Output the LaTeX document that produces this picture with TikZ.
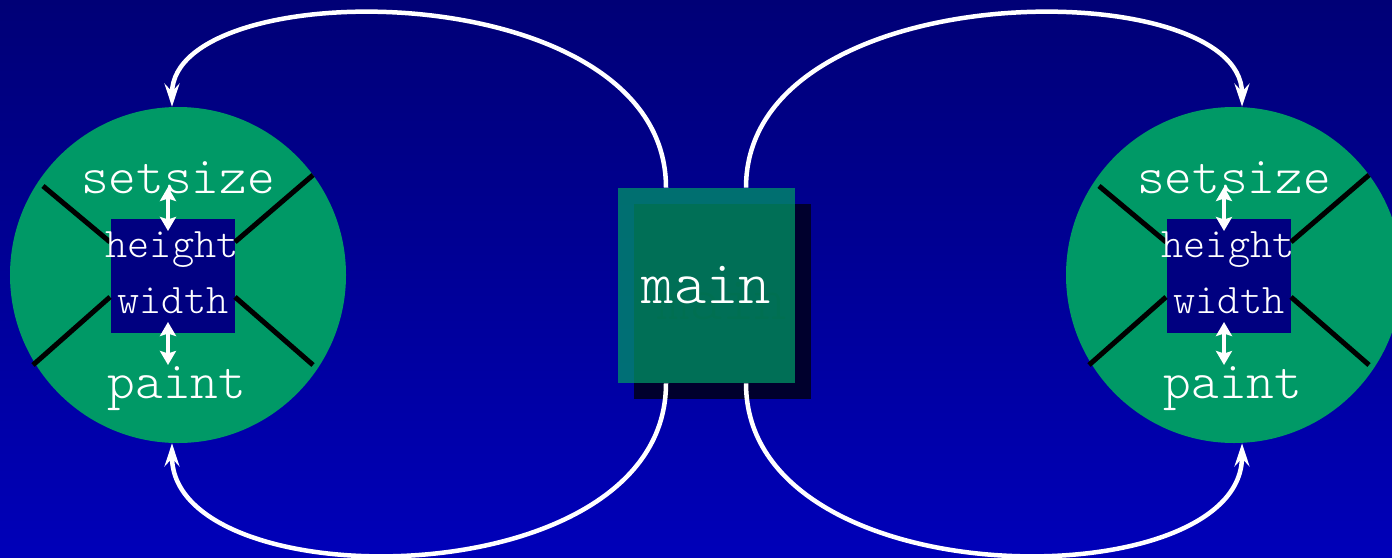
\documentclass[tikz,border=0pt]{standalone}
\usepackage{fontspec}
\setmonofont{Latin Modern Mono Light}
\usetikzlibrary{arrows.meta,calc}
\definecolor{bgtop}{RGB}{0,0,118}
\definecolor{bgbot}{RGB}{0,0,185}
\definecolor{bubblegreen}{RGB}{0,153,102}
\definecolor{corenavy}{RGB}{0,0,128}
\definecolor{shadowdark}{RGB}{0,0,45}
\definecolor{ghosttext}{RGB}{0,0,25}
\tikzset{
  bubble/.style={circle, fill=bubblegreen, minimum size=67.2mm, inner sep=0pt},
  core/.style={fill=corenavy, minimum width=24.8mm, minimum height=22.8mm, inner sep=0pt},
  mainbox/.style={fill=bubblegreen, fill opacity=0.73, text opacity=1, text=white, minimum width=35.4mm, minimum height=39mm, inner sep=0pt, font=\ttfamily\fontsize{35}{38}\selectfont},
  mainshadow/.style={fill=shadowdark, text=ghosttext, minimum width=35.4mm, minimum height=39mm, inner sep=0pt, font=\ttfamily\fontsize{35}{38}\selectfont},
  biglabel/.style={text=white, font=\ttfamily\fontsize{30}{33}\selectfont, inner sep=0pt, anchor=base},
  smalllabel/.style={text=white, font=\ttfamily\fontsize{24}{27}\selectfont, inner sep=0pt, anchor=base},
  linkarrow/.style={draw=white, line width=0.9mm, -{Stealth[length=4.6mm,width=3mm,inset=1.6mm]}},
  dblarrow/.style={draw=white, line width=0.8mm, {Stealth[length=2.8mm,width=3.2mm,inset=0.5mm]}-{Stealth[length=2.8mm,width=3.2mm,inset=0.5mm]}},
  spoke/.style={draw=black, line width=1mm}
}
\begin{document}
\begin{tikzpicture}[x=0.2mm,y=-0.2mm]
\useasboundingbox (0,0) rectangle (1392,558);
\clip (0,0) rectangle (1392,558);
\shade[top color=bgtop, bottom color=bgbot] (0,0) rectangle (1392,558);

% the two components
\foreach \s/\dx in {L/0,R/1056}{
  \node[bubble] (circ\s) at (178+\dx,275) {};
  \node[core] (core\s) at (173+\dx,276) {};
  \draw[spoke] (110+\dx,242) -- (43+\dx,186);
  \draw[spoke] (235+\dx,242) -- (313+\dx,175);
  \draw[spoke] (110+\dx,297) -- (33+\dx,365);
  \draw[spoke] (235+\dx,297) -- (313+\dx,365);
  \node[biglabel] (set\s) at (178+\dx,193) {setsize};
  \node[smalllabel] (hgt\s) at (172+\dx,257) {height};
  \node[smalllabel] (wid\s) at (173+\dx,313) {width};
  \node[biglabel] (pnt\s) at (177+\dx,398) {paint};
  \draw[dblarrow] (168+\dx,187) -- (168+\dx,231);
  \draw[dblarrow] (168+\dx,322) -- (168+\dx,365);
}

% main box with its shadow
\node[mainshadow] (mainsh) at (722.5,301.5) {main};
\node[mainbox] (main) at (706.5,285.5) {main};

\draw[linkarrow] ([xshift=-8.1mm]main.north) .. controls (666,-28) and (172,-28) .. ([xshift=-1.2mm]circL.north);
\draw[linkarrow] ([xshift=7.9mm]main.north) .. controls (746,-28) and (1242,-28) .. ([xshift=1.6mm]circR.north);
\draw[linkarrow] ([xshift=-8.1mm]main.south) .. controls (666,600) and (172,600) .. ([xshift=-1.2mm]circL.south);
\draw[linkarrow] ([xshift=7.9mm]main.south) .. controls (746,600) and (1242,600) .. ([xshift=1.6mm]circR.south);
\end{tikzpicture}
\end{document}
